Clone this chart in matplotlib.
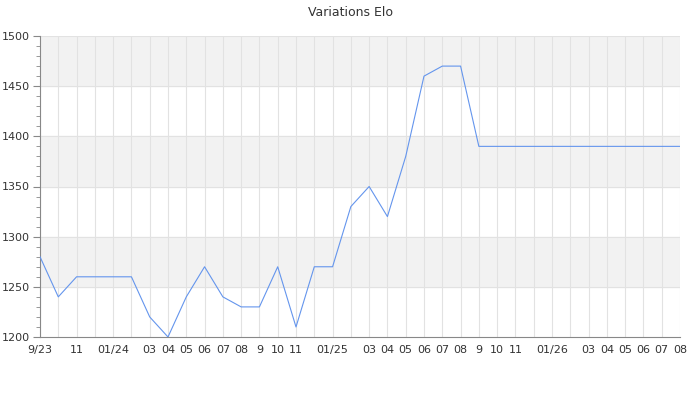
import matplotlib.pyplot as plt
from matplotlib.ticker import MultipleLocator

# monthly values, Sep 2023 -> Aug 2026
months = ['09/23', '10/23', '11/23', '12/23', '01/24', '02/24', '03/24', '04/24', '05/24',
          '06/24', '07/24', '08/24', '09/24', '10/24', '11/24', '12/24', '01/25', '02/25',
          '03/25', '04/25', '05/25', '06/25', '07/25', '08/25', '09/25', '10/25', '11/25',
          '12/25', '01/26', '02/26', '03/26', '04/26', '05/26', '06/26', '07/26', '08/26']
elo = [1280, 1240, 1260, 1260, 1260, 1260, 1220, 1200, 1240,
       1270, 1240, 1230, 1230, 1270, 1210, 1270, 1270, 1330,
       1350, 1320, 1380, 1460, 1470, 1470, 1390, 1390, 1390,
       1390, 1390, 1390, 1390, 1390, 1390, 1390, 1390, 1390]

# labels shown under the axis (empty = month not labelled)
tick_labels = ['9/23', '', '11', '', '01/24', '', '03', '04', '05',
               '06', '07', '08', '9', '10', '11', '', '01/25', '',
               '03', '04', '05', '06', '07', '08', '9', '10', '11',
               '', '01/26', '', '03', '04', '05', '06', '07', '08']

x = list(range(len(months)))

fig = plt.figure(figsize=(7, 4), dpi=100)
ax = fig.add_axes([40 / 700, 63 / 400, 640 / 700, 301 / 400])

# alternating bands
for lo in (1250, 1350, 1450):
    ax.axhspan(lo, lo + 50, color='#f2f2f2', zorder=0)

for i in x:
    ax.axvline(i, color='#e2e2e2', lw=0.8, zorder=1)
for v in range(1250, 1501, 50):
    ax.axhline(v, color='#e2e2e2', lw=0.8, zorder=1)

ax.plot(x, elo, color='#6495ed', lw=0.8, zorder=3)

ax.set_xlim(0, len(months) - 1)
ax.set_ylim(1200, 1500)
ax.set_xticks(x)
ax.set_xticklabels(tick_labels)
ax.tick_params(axis='x', length=0, pad=6, labelsize=8, labelcolor='#333333')
ax.yaxis.set_major_locator(MultipleLocator(50))
ax.yaxis.set_minor_locator(MultipleLocator(10))
ax.tick_params(axis='y', which='major', length=5, color='#888888', labelsize=8, labelcolor='#333333', pad=2)
ax.tick_params(axis='y', which='minor', length=3, color='#888888')

for s in ('top', 'right'):
    ax.spines[s].set_visible(False)
for s in ('left', 'bottom'):
    ax.spines[s].set_color('#888888')
    ax.spines[s].set_linewidth(0.8)

fig.suptitle('Variations Elo', y=0.985, fontsize=9, color='#333333')

fig.savefig('out.png', dpi=100)
